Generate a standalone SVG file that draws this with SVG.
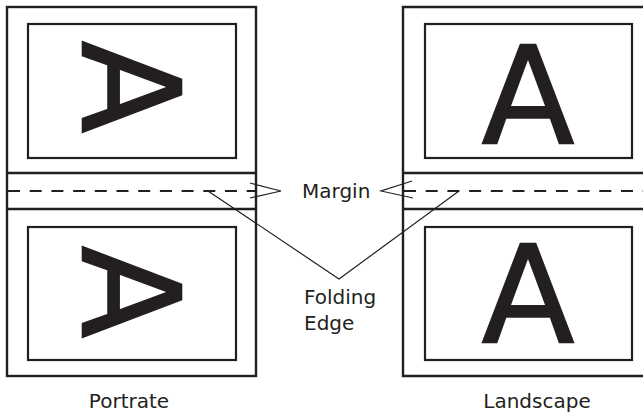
<svg xmlns="http://www.w3.org/2000/svg" width="643" height="413" viewBox="0 0 643 413">
<style>
.frame{fill:none;stroke:#231f20;stroke-width:2.4}
.inner{fill:none;stroke:#231f20;stroke-width:2.2}
.dash{fill:none;stroke:#231f20;stroke-width:2.2;stroke-dasharray:12 9.7}
.ptr{fill:none;stroke:#231f20;stroke-width:1.2}
.lbl{font-family:"DejaVu Sans",sans-serif;font-size:20px;fill:#231f20}
.big{font-family:"DejaVu Sans",sans-serif;font-size:136px;fill:#231f20;stroke:#231f20;stroke-width:1.6;text-anchor:middle}
</style>
<rect width="643" height="413" fill="#fff"/>
<g id="portrait">
  <rect class="frame" x="7" y="7" width="249" height="369"/>
  <line class="frame" x1="7" y1="173" x2="256" y2="173"/>
  <line class="frame" x1="7" y1="209" x2="256" y2="209"/>
  <line class="dash" x1="8" y1="191" x2="256" y2="191"/>
  <rect class="inner" x="28" y="24" width="208" height="134"/>
  <rect class="inner" x="28" y="227" width="208" height="133"/>
  <text class="big" transform="translate(83,87) rotate(90)" x="0" y="0">A</text>
  <text class="big" transform="translate(83,292) rotate(90)" x="0" y="0">A</text>
  <text class="lbl" x="129" y="408" text-anchor="middle">Portrate</text>
</g>
<g id="landscape">
  <path class="frame" d="M643 7H403V376H643"/>
  <line class="frame" x1="403" y1="173" x2="643" y2="173"/>
  <line class="frame" x1="403" y1="209" x2="643" y2="209"/>
  <line class="dash" x1="404" y1="191" x2="643" y2="191"/>
  <rect class="inner" x="425" y="24" width="207" height="134"/>
  <rect class="inner" x="425" y="227" width="207" height="133"/>
  <text class="big" x="528" y="143">A</text>
  <text class="big" x="528" y="342">A</text>
  <text class="lbl" x="537" y="408" text-anchor="middle">Landscape</text>
</g>
<g id="margin-label">
  <text class="lbl" x="302" y="198">Margin</text>
</g>
<g id="folding-label">
  <text class="lbl" x="304" y="304">Folding</text>
  <text class="lbl" x="304" y="330">Edge</text>
</g>
<g id="connectors">
  <polyline class="ptr" points="250,183 281,191 250,198"/>
  <polyline class="ptr" points="412,181 381,191 413,198"/>
  <polyline class="ptr" points="208,191 339,279 459,191"/>
</g>
</svg>
